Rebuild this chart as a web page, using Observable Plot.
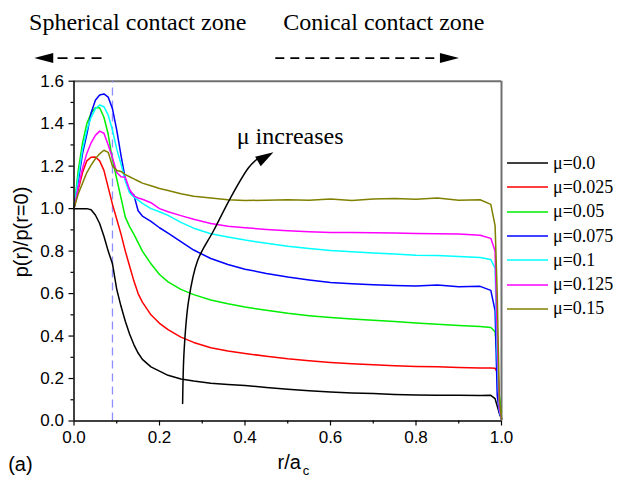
<!DOCTYPE html>
<html>
<head>
<meta charset="utf-8">
<script src="https://cdn.jsdelivr.net/npm/d3@7"></script>
<script src="https://cdn.jsdelivr.net/npm/@observablehq/plot@0.6"></script>
<style>
  body { margin: 0; background: #fff; }
  #chart { position: relative; width: 618px; height: 480px; }
  #chart svg { position: absolute; left: 0; top: 0; }
  #legend { position: absolute; left: 507px; top: 151px; font-family: "Liberation Serif", "Times New Roman", serif; font-size: 18px; color: #000; }
  #legend .item { display: flex; align-items: center; height: 24.3px; white-space: nowrap; }
  #legend svg { position: static; margin-right: 5px; }
</style>
</head>
<body>
<div id="chart"><div id="legend"></div></div>
<script>
// Normalised radius r/a_c at which every profile is sampled
const r = [0, 0.01, 0.02, 0.03, 0.04, 0.05, 0.06, 0.07, 0.08, 0.09, 0.10, 0.11, 0.12, 0.13, 0.14, 0.15, 0.16,
  0.18, 0.20, 0.22, 0.25, 0.28, 0.32, 0.36, 0.40, 0.45, 0.50, 0.55, 0.60, 0.65, 0.70, 0.75, 0.80, 0.85, 0.90,
  0.95, 0.975, 0.985, 0.99, 0.995, 1.0];

// Pressure ratio p(r)/p(r=0) for each friction coefficient
const p_mu000 = [1.0, 1.0, 1.0, 1.0, 0.995, 0.97, 0.93, 0.87, 0.80, 0.74, 0.62, 0.54, 0.47, 0.41, 0.36, 0.32, 0.29,
  0.255, 0.235, 0.215, 0.198, 0.188, 0.178, 0.172, 0.167, 0.158, 0.15, 0.143, 0.137, 0.132, 0.129, 0.125, 0.123,
  0.121, 0.121, 0.12, 0.121, 0.105, 0.07, 0.035, 0.01];
const p_mu025 = [1.0, 1.09, 1.17, 1.225, 1.242, 1.243, 1.225, 1.18, 1.10, 1.02, 0.95, 0.88, 0.80, 0.73, 0.66, 0.60, 0.56,
  0.50, 0.46, 0.43, 0.395, 0.37, 0.345, 0.33, 0.318, 0.305, 0.293, 0.284, 0.276, 0.27, 0.265, 0.26, 0.257,
  0.255, 0.252, 0.25, 0.25, 0.248, 0.23, 0.11, 0.01];
const p_mu050 = [1.0, 1.18, 1.31, 1.40, 1.45, 1.475, 1.475, 1.43, 1.35, 1.23, 1.14, 1.05, 0.96, 0.915, 0.88, 0.84, 0.80,
  0.74, 0.69, 0.655, 0.62, 0.595, 0.57, 0.552, 0.537, 0.521, 0.507, 0.496, 0.487, 0.48, 0.474, 0.468, 0.461,
  0.455, 0.45, 0.445, 0.44, 0.42, 0.30, 0.12, 0.01];
const p_mu075 = [1.0, 1.13, 1.26, 1.35, 1.45, 1.51, 1.535, 1.54, 1.525, 1.47, 1.37, 1.25, 1.14, 1.08, 1.065, 0.99, 0.965,
  0.94, 0.91, 0.885, 0.845, 0.805, 0.765, 0.737, 0.715, 0.695, 0.678, 0.664, 0.652, 0.646, 0.641, 0.638, 0.636,
  0.64, 0.632, 0.634, 0.615, 0.52, 0.12, 0.04, 0.01];
const p_mu100 = [1.0, 1.15, 1.28, 1.37, 1.43, 1.47, 1.488, 1.48, 1.44, 1.37, 1.28, 1.21, 1.13, 1.075, 1.054, 1.04, 1.025,
  1.0, 0.985, 0.968, 0.935, 0.908, 0.882, 0.866, 0.852, 0.837, 0.823, 0.812, 0.803, 0.797, 0.791, 0.786, 0.781,
  0.779, 0.775, 0.77, 0.76, 0.72, 0.30, 0.05, 0.01];
const p_mu125 = [1.0, 1.10, 1.19, 1.26, 1.31, 1.345, 1.365, 1.355, 1.30, 1.24, 1.17, 1.15, 1.148, 1.09, 1.06, 1.05, 1.044,
  1.028, 1.0, 0.985, 0.967, 0.95, 0.93, 0.917, 0.91, 0.902, 0.896, 0.891, 0.888, 0.887, 0.886, 0.885, 0.883,
  0.882, 0.88, 0.875, 0.86, 0.80, 0.40, 0.06, 0.01];
const p_mu150 = [1.0, 1.07, 1.12, 1.17, 1.205, 1.235, 1.258, 1.275, 1.265, 1.20, 1.18, 1.175, 1.16, 1.15, 1.14, 1.13, 1.12,
  1.108, 1.095, 1.085, 1.07, 1.058, 1.05, 1.042, 1.038, 1.04, 1.042, 1.04, 1.045, 1.038, 1.045, 1.048, 1.044,
  1.05, 1.04, 1.042, 1.02, 0.92, 0.60, 0.10, 0.01];

const seriesLabels = ["μ=0.0", "μ=0.025", "μ=0.05", "μ=0.075", "μ=0.1", "μ=0.125", "μ=0.15"];
const seriesValues = [p_mu000, p_mu025, p_mu050, p_mu075, p_mu100, p_mu125, p_mu150];
const seriesColors = ["#000000", "#ff0000", "#00ee00", "#0000ff", "#00ffff", "#ff00ff", "#808000"];

// Axis ticks
const xMajor = [0, 0.2, 0.4, 0.6, 0.8, 1.0];
const xMinor = [0.1, 0.3, 0.5, 0.7, 0.9];
const yMajor = [0, 0.2, 0.4, 0.6, 0.8, 1.0, 1.2, 1.4, 1.6];
const yMinor = [0.1, 0.3, 0.5, 0.7, 0.9, 1.1, 1.3, 1.5];

// Boundary between spherical and conical contact
const zoneBoundary = [0.09];

// Annotations (in r/a_c and p/p0 units)
const zoneTitles = [
  {x: -0.105, y: 1.839, text: "Spherical contact zone"},
  {x: 0.4895, y: 1.839, text: "Conical contact zone"}
];
const sphericalShaft = [{x1: -0.0385, x2: 0.0645, y: 1.709}];
const conicalShaft = [{x1: 0.4709, x2: 0.8583, y: 1.709}];
const zoneHeads = [
  {x: -0.093, y: 1.709, angle: 180},
  {x: 0.9005, y: 1.709, angle: 0}
];
const trendPath = [
  [0.2541, 0.0824], [0.2576, 0.3319], [0.2681, 0.5673], [0.2892, 0.7557],
  [0.3267, 0.8969], [0.3665, 1.0523], [0.4087, 1.1935], [0.4297, 1.2359]
];
const trendHead = [{x: 0.4665, y: 1.2655, angle: -30.6}];
const trendLabel = [{x: 0.3806, y: 1.305, text: "μ increases"}];

const rows = seriesValues.flatMap((vals, i) =>
  vals.map((p, j) => ({r: r[j], p, mu: seriesLabels[i]})));

// Filled arrowheads pointing along +x with the tip at the origin
const arrowHead = {
  draw(ctx) {
    ctx.moveTo(0, 0);
    ctx.lineTo(-19, -5);
    ctx.lineTo(-19, 5);
    ctx.closePath();
  }
};
const smallHead = {
  draw(ctx) {
    ctx.moveTo(0, 0);
    ctx.lineTo(-18, -5.5);
    ctx.lineTo(-18, 5.5);
    ctx.closePath();
  }
};

const serif = "Liberation Serif, Times New Roman, serif";
const sans = "Liberation Sans, Arial, sans-serif";

const chart = Plot.plot({
  width: 618,
  height: 480,
  marginLeft: 73.5,
  marginRight: 117,
  marginTop: 80.7,
  marginBottom: 59.5,
  x: {domain: [0, 1]},
  y: {domain: [0, 1.6]},
  color: {domain: seriesLabels, range: seriesColors},
  style: {fontFamily: sans, fontSize: "17px", color: "#000", background: "transparent", overflow: "visible"},
  marks: [
    // frame
    Plot.ruleY([1.6], {stroke: "#707070", strokeWidth: 2}),
    Plot.ruleX([1.0], {stroke: "#707070", strokeWidth: 2}),
    Plot.ruleX(zoneBoundary, {y1: 0, y2: 1.6, stroke: "#8e8eff", strokeWidth: 1.3, strokeDasharray: "8,5"}),
    // profiles
    Plot.line(rows, {x: "r", y: "p", z: "mu", stroke: "mu", strokeWidth: 1.5, curve: "linear"}),
    // axes
    Plot.ruleX([0], {stroke: "#000", strokeWidth: 1.5}),
    Plot.ruleY([0], {stroke: "#000", strokeWidth: 1.5}),
    Plot.axisX({ticks: xMajor, tickSize: 5, tickPadding: 5, tickFormat: ".1f", label: null, fontSize: 17, strokeWidth: 1.2}),
    Plot.axisX({ticks: xMinor, tickSize: 3, text: null, label: null, strokeWidth: 1.2}),
    Plot.axisY({ticks: yMajor, tickSize: 5, tickPadding: 5, tickFormat: ".1f", label: null, fontSize: 17, strokeWidth: 1.2}),
    Plot.axisY({ticks: yMinor, tickSize: 3, text: null, label: null, strokeWidth: 1.2}),
    // axis titles
    Plot.text(["p(r)/p(r=0)"], {x: -0.123, y: 0.89, text: d => d, rotate: -90, fontSize: 20, fontFamily: sans, textAnchor: "middle", lineAnchor: "middle"}),
    Plot.text(["r/a"], {x: 0.476, y: -0.225, text: d => d, fontSize: 20, fontFamily: sans, textAnchor: "start", lineAnchor: "bottom"}),
    Plot.text(["c"], {x: 0.535, y: -0.252, text: d => d, fontSize: 13, fontFamily: sans, textAnchor: "start", lineAnchor: "bottom"}),
    Plot.text(["(a)"], {x: -0.154, y: -0.234, text: d => d, fontSize: 20, fontFamily: sans, textAnchor: "start", lineAnchor: "bottom"}),
    // contact zone annotations
    Plot.text(zoneTitles, {x: "x", y: "y", text: "text", fontSize: 24, fontFamily: serif, textAnchor: "start", lineAnchor: "bottom"}),
    Plot.link(sphericalShaft, {x1: "x1", x2: "x2", y1: "y", y2: "y", stroke: "#000", strokeWidth: 1.8, strokeDasharray: "10,7"}),
    Plot.link(conicalShaft, {x1: "x1", x2: "x2", y1: "y", y2: "y", stroke: "#000", strokeWidth: 1.8, strokeDasharray: "9,6"}),
    Plot.dot(zoneHeads, {x: "x", y: "y", rotate: "angle", symbol: arrowHead, fill: "#000", stroke: "none"}),
    // trend arrow
    Plot.line(trendPath, {x: d => d[0], y: d => d[1], stroke: "#000", strokeWidth: 1.5, curve: "catmull-rom"}),
    Plot.dot(trendHead, {x: "x", y: "y", rotate: "angle", symbol: smallHead, fill: "#000", stroke: "none"}),
    Plot.text(trendLabel, {x: "x", y: "y", text: "text", fontSize: 24, fontFamily: serif, textAnchor: "start", lineAnchor: "bottom"})
  ]
});

const container = document.getElementById("chart");
container.insertBefore(chart, container.firstChild);

// Legend beside the plot
const legend = document.getElementById("legend");
seriesLabels.forEach((label, i) => {
  const item = document.createElement("div");
  item.className = "item";
  item.innerHTML = `<svg width="41" height="4"><line x1="0" x2="41" y1="2" y2="2" stroke="${seriesColors[i]}" stroke-width="1.6"/></svg><span>${label}</span>`;
  legend.appendChild(item);
});
</script>
</body>
</html>
